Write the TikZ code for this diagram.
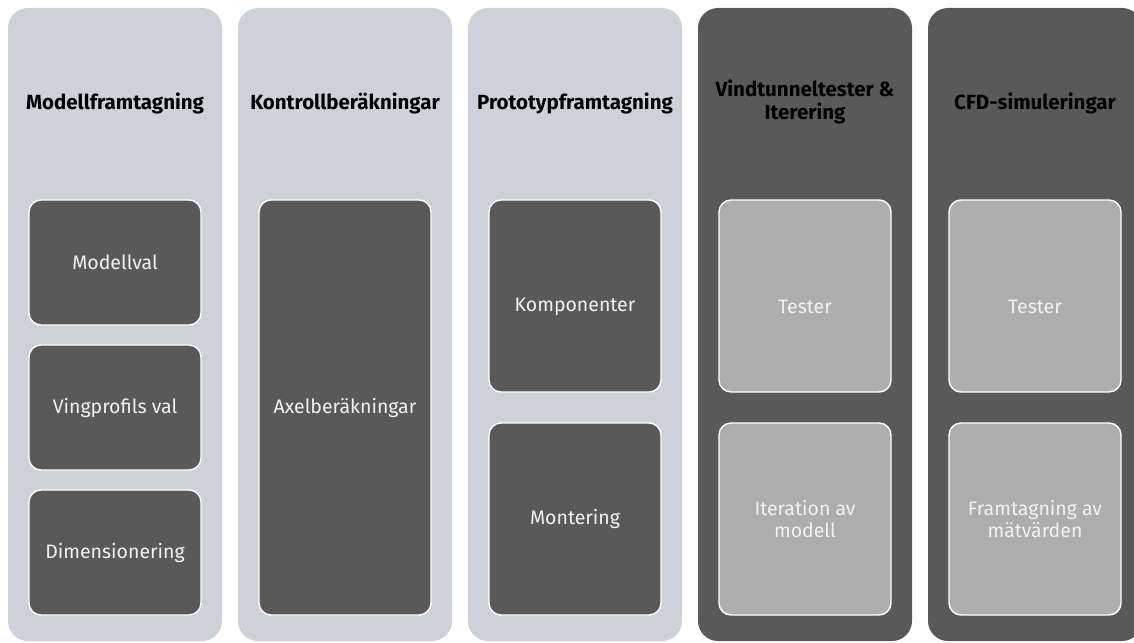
\documentclass[tikz,border=0pt]{standalone}
\usepackage{fontspec}
\setmainfont{Fira Sans}
\definecolor{lanelight}{RGB}{205,210,217}
\definecolor{lanedark}{RGB}{89,89,89}
\definecolor{cardgray}{RGB}{173,173,173}
\definecolor{cardtext}{RGB}{242,242,242}
\tikzset{
  lane/.style={rounded corners=20pt, draw=none},
  card/.style={rounded corners=12pt, draw=white, line width=1.4pt},
  heading/.style={font=\fontsize{20.5}{23}\selectfont\bfseries, text=black, align=center},
  cardlabel/.style={font=\fontsize{19.5}{22}\selectfont, text=cardtext, align=center}
}
\begin{document}
\begin{tikzpicture}[x=1pt,y=-1pt]
\useasboundingbox (0,0) rectangle (1134,642);
\clip (0,0) rectangle (1134,642);
\fill[white] (0,0) rectangle (1134,642);

% lanes
\fill[lane, lanelight] (8,8) rectangle (222,641);
\fill[lane, lanelight] (238,8) rectangle (452,641);
\fill[lane, lanelight] (468,8) rectangle (682,641);
\fill[lane, lanedark] (698,8) rectangle (912,641);
\fill[lane, lanedark] (928,8) rectangle (1142,641);

% headings
\node[heading] (h1) at (115,103) {Modellframtagning};
\node[heading] (h2) at (345,103) {Kontrollberäkningar};
\node[heading] (h3) at (575,103) {Prototypframtagning};
\node[heading] (h4) at (805,102) {Vindtunneltester \&\\Iterering};
\node[heading] (h5) at (1035,103) {CFD-simuleringar};

% lane 1 cards
\draw[card, fill=lanedark] (29,200) rectangle (201,325);
\node[cardlabel] (c11) at (115,262.5) {Modellval};
\draw[card, fill=lanedark] (29,345) rectangle (201,470);
\node[cardlabel] (c12) at (115,407.5) {Vingprofils val};
\draw[card, fill=lanedark] (29,490) rectangle (201,615);
\node[cardlabel] (c13) at (115,552.5) {Dimensionering};

% lane 2 card
\draw[card, fill=lanedark] (259,200) rectangle (431,615);
\node[cardlabel] (c21) at (345,407.5) {Axelberäkningar};

% lane 3 cards
\draw[card, fill=lanedark] (489,200) rectangle (661,392);
\node[cardlabel] (c31) at (575,307) {Komponenter};
\draw[card, fill=lanedark] (489,423) rectangle (661,615);
\node[cardlabel] (c32) at (575,519) {Montering};

% lane 4 cards
\draw[card, fill=cardgray] (719,200) rectangle (891,392);
\node[cardlabel] (c41) at (805,307) {Tester};
\draw[card, fill=cardgray] (719,423) rectangle (891,615);
\node[cardlabel] (c42) at (805,519) {Iteration av\\modell};

% lane 5 cards
\draw[card, fill=cardgray] (949,200) rectangle (1121,392);
\node[cardlabel] (c51) at (1035,307) {Tester};
\draw[card, fill=cardgray] (949,423) rectangle (1121,615);
\node[cardlabel] (c52) at (1035,519) {Framtagning av\\mätvärden};
\end{tikzpicture}
\end{document}
